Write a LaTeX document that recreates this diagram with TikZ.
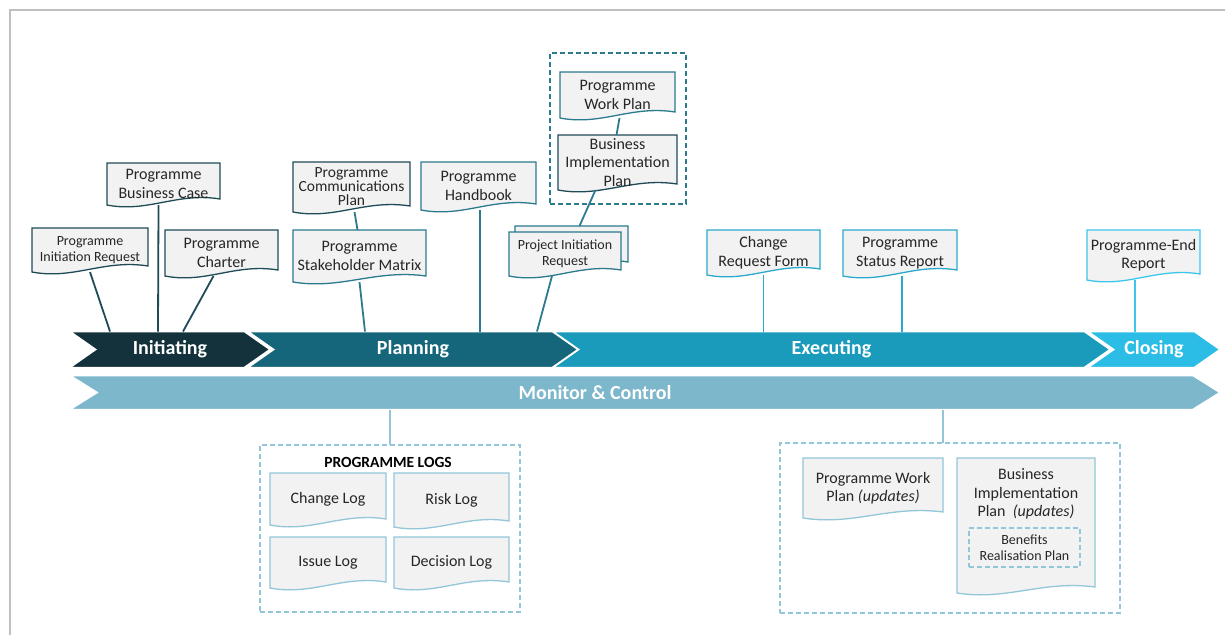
\documentclass[tikz,border=0pt]{standalone}
\usepackage{fontspec}
\setmainfont{Carlito}
\usetikzlibrary{positioning, shapes.symbols, backgrounds, calc}

\definecolor{initcol}{HTML}{13323C}
\definecolor{plancol}{HTML}{16667B}
\definecolor{execcol}{HTML}{1A9BBC}
\definecolor{closcol}{HTML}{2BBDE6}
\definecolor{moncol}{HTML}{7DB7CB}
\definecolor{docfill}{HTML}{F2F2F2}
\definecolor{txtcol}{HTML}{262626}
\definecolor{docA}{HTML}{1F4B57}
\definecolor{docB}{HTML}{2B7A8D}
\definecolor{docC}{HTML}{2AA9CC}
\definecolor{docD}{HTML}{3EC5EC}
\definecolor{docE}{HTML}{92C6D8}
\definecolor{framecol}{HTML}{C0C0C0}

% document outline with wavy bottom
\newcommand{\docshape}[2]{%
  \filldraw[fill=docfill, draw=#2, line width=1.3pt]
    (#1.south west) -- (#1.north west) -- (#1.north east)
    -- ([yshift=6pt]#1.south east)
    .. controls ([yshift=13pt]$(#1.south west)!0.62!(#1.south east)$)
       and ([yshift=-8pt]$(#1.south west)!0.36!(#1.south east)$)
    .. (#1.south west) -- cycle;}

\begin{document}
\begin{tikzpicture}[x=1pt, y=-1pt,
    phase/.style = {signal, signal from=west, signal to=east,
                    signal pointer angle=70, draw=white, line width=1.5pt,
                    minimum height=36pt, inner sep=0pt, outer sep=0pt,
                    text=white, font=\fontsize{20}{24}\selectfont\bfseries},
    phasetxt/.style = {text=white, font=\fontsize{20}{24}\selectfont\bfseries},
    doc/.style  = {minimum height=44pt, inner sep=2pt, outer sep=0pt,
                   align=center, text=txtcol,
                   font=\fontsize{16}{18.5}\selectfont},
    smalldoc/.style = {doc, font=\fontsize{14}{15.5}\selectfont},
    dashbox/.style  = {draw, line width=1.3pt, dash pattern=on 5pt off 3pt,
                       inner sep=0pt, outer sep=0pt},
    conn/.style = {line width=1.8pt}
  ]
  \useasboundingbox (0,0) rectangle (1225,635);
  \draw[framecol, line width=2pt] (10,635) -- (10,10) -- (1225,10);

  % phases
  \node[phase, fill=initcol, minimum width=200pt] (init) at (170,349.5) {Initiating};
  \node[phase, fill=plancol, minimum width=330pt] (plan) at (413,349.5) {Planning};
  \node[phase, fill=execcol, minimum width=557pt] (exec) at (831.5,349.5) {Executing};
  \node[phase, fill=closcol, minimum width=132pt] (clos) at (1154,349.5) {Closing};
  \node[phase, fill=moncol, minimum width=1150pt, minimum height=34pt,
        signal pointer angle=64] (mon) at (645,392.5) {};
  \node[phasetxt] (montxt) at (595,393) {Monitor \& Control};

  % initiating documents
  \node[smalldoc, minimum width=116pt] (pireq) at (90,250) {Programme\\Initiation Request};
  \node[doc, minimum width=113pt, minimum height=42pt] (pbcase) at (163.5,184) {Programme\\Business Case};
  \node[doc, minimum width=113pt, minimum height=46pt] (pcharter) at (221.5,253) {Programme\\Charter};

  % planning documents
  \node[doc, minimum width=117pt, minimum height=50pt,
        font=\fontsize{15.5}{14}\selectfont] (pcomms) at (351.5,187) {Programme\\Communications\\Plan};
  \node[doc, minimum width=133pt, minimum height=52pt] (pstake) at (359.5,256) {Programme\\Stakeholder Matrix};
  \node[doc, minimum width=115pt, minimum height=48pt] (phandbk) at (478.5,186) {Programme\\Handbook};
  \node[doc, minimum width=113pt, minimum height=42pt] (pjreqb) at (571.5,247) {};
  \node[smalldoc, minimum width=112pt] (pjreq) at (565,254) {Project Initiation\\Request};
  \node[doc, minimum width=115pt, minimum height=46pt] (pwplan) at (617.5,95) {Programme\\Work Plan};
  \node[doc, minimum width=119pt, minimum height=55pt] (bimpl) at (617.5,162.5) {Business\\Implementation\\Plan};
  \node[dashbox, draw=docB, minimum width=136pt, minimum height=151pt] (wpbox) at (618,128.5) {};

  % executing and closing documents
  \node[doc, minimum width=113pt, minimum height=45pt] (crform) at (763.5,252.5) {Change\\Request Form};
  \node[doc, minimum width=114pt, minimum height=46pt] (pstatus) at (900,253) {Programme\\Status Report};
  \node[doc, minimum width=113pt, minimum height=50pt] (pend) at (1143.5,255) {Programme-End\\Report};

  % programme logs
  \node[dashbox, draw=docE, minimum width=260pt, minimum height=167pt] (logbox) at (390,528.5) {};
  \node[font=\fontsize{15.5}{18}\selectfont\bfseries, text=black] (logtitle) at (388,462) {PROGRAMME LOGS};
  \node[doc, minimum width=116pt, minimum height=52pt] (chglog) at (328,499) {Change Log};
  \node[doc, minimum width=115pt, minimum height=54pt] (rsklog) at (451.5,500) {Risk Log};
  \node[doc, minimum width=116pt, minimum height=51pt] (isslog) at (328,562.5) {Issue Log};
  \node[doc, minimum width=115pt, minimum height=51pt] (declog) at (451.5,562.5) {Decision Log};

  % plan updates
  \node[dashbox, draw=docE, minimum width=340pt, minimum height=170pt] (updbox) at (950,528) {};
  \node[doc, minimum width=140pt, minimum height=60pt] (pwupd) at (873,488) {Programme Work\\Plan \textit{(updates)}};
  \node[doc, minimum width=138pt, minimum height=135pt] (biupd) at (1026,525.5) {};
  \node[doc] (biutxt) at (1026,494) {Business\\Implementation\\Plan~~\textit{(updates)}};
  \node[dashbox, draw=docE, minimum width=111pt, minimum height=39pt, align=center,
        text=txtcol, font=\fontsize{14}{16}\selectfont] (benplan) at (1024.5,547.5) {Benefits\\Realisation Plan};

  \begin{scope}[on background layer]
    \docshape{pireq}{docA}
    \docshape{pbcase}{docA}
    \docshape{pcharter}{docA}
    \docshape{pcomms}{docA}
    \docshape{pstake}{docB}
    \docshape{phandbk}{docB}
    \docshape{pjreqb}{docB}
    \docshape{pjreq}{docB}
    \docshape{pwplan}{docB}
    \docshape{bimpl}{docA}
    \docshape{crform}{docC}
    \docshape{pstatus}{docC}
    \docshape{pend}{docD}
    \docshape{chglog}{docE}
    \docshape{rsklog}{docE}
    \docshape{isslog}{docE}
    \docshape{declog}{docE}
    \docshape{pwupd}{docE}
    \docshape{biupd}{docE}
  \end{scope}

  % connectors
  \draw[conn, docA] (pireq.south) -- ([xshift=-60pt]init.north);
  \draw[conn, docA] ([xshift=-5pt]pbcase.south) -- ([xshift=-12pt]init.north);
  \draw[conn, docA] ([xshift=-8pt]pcharter.south) -- ([xshift=13pt]init.north);
  \draw[conn, docB] ([xshift=3pt]pcomms.south) -- ([xshift=-2pt]pstake.north);
  \draw[conn, docB] (pstake.south) -- ([xshift=-48pt]plan.north);
  \draw[conn, docB] ([xshift=1.5pt]phandbk.south) -- ([xshift=67pt]plan.north);
  \draw[conn, docB] ([xshift=-13pt]pjreq.south) -- ([xshift=124pt]plan.north);
  \draw[conn, docB] ([xshift=8pt]pjreqb.north) -- ([xshift=-22pt]bimpl.south);
  \draw[conn, docB] ([xshift=2pt]pwplan.south) -- ([xshift=-1pt]bimpl.north);
  \draw[conn, docC] (crform.south) -- ([xshift=-68pt]exec.north);
  \draw[conn, docC] ([xshift=2pt]pstatus.south) -- ([xshift=70.5pt]exec.north);
  \draw[conn, docD] ([xshift=-8.5pt]pend.south) -- ([xshift=-19pt]clos.north);
  \draw[conn, docE] (logbox.north |- mon.south) -- (logbox.north);
  \coordinate (updtop) at ([xshift=-7pt]updbox.north);
  \draw[conn, docE] (updtop |- mon.south) -- (updtop);
\end{tikzpicture}
\end{document}
